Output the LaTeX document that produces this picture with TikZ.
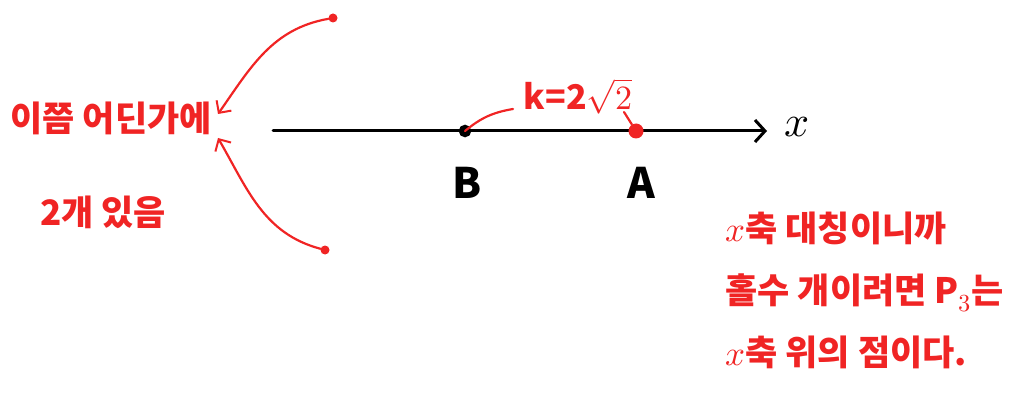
\documentclass[tikz,border=0pt]{standalone}
\usepackage{amsmath}
\usepackage{xcolor}
\usepackage{fontspec}
\usepackage{unicode-math}
\newfontfamily\kor{Noto Sans CJK KR}
\usetikzlibrary{arrows.meta, positioning, calc}

\definecolor{pen}{RGB}{240,36,36}

\begin{document}
\begin{tikzpicture}[
    x=1pt, y=-1pt,
    axis/.style={line width=3pt, line cap=round, -{Straight Barb[length=10pt, width=22pt, line width=3pt]}},
    bdot/.style={circle, draw, line width=2.5pt, fill=black, inner sep=0pt, minimum size=10pt},
    adot/.style={circle, fill=pen, inner sep=0pt, minimum size=15pt},
    pdot/.style={circle, fill=pen, inner sep=0pt, minimum size=9pt},
    pointlabel/.style={font=\kor\bfseries\fontsize{42}{50}\selectfont},
    note/.style={text=pen, font=\kor\bfseries\fontsize{35}{62}\selectfont, align=left},
    hint/.style={pen, line width=2.2pt, line cap=round},
    >={Straight Barb[length=9pt, width=18pt, line width=2pt]}
]
\useasboundingbox (0,0) rectangle (1035,398);

% axis and its points
\coordinate (axstart) at (273,131);
\coordinate (axend) at (767,131);
\draw[axis] (axstart) -- (axend);
\node[font=\fontsize{44}{48}\selectfont] (xlab) at (797,127) {$x$};
\node[bdot] (B) at (465,131) {};
\node[adot] (A) at (636,131) {};
\node[pointlabel] (blab) at (467,183) {B};
\node[pointlabel] (alab) at (641,183) {A};

% distance mark
\node[text=pen, font=\kor\bfseries\fontsize{34}{40}\selectfont] (klab) at (578,96) {k=2$\sqrt{2}$};
\coordinate (kleft) at (513,109);
\coordinate (kright) at (624,112);
\draw[hint] (B.center) to[bend left=15] (kleft);
\draw[hint] (kright) -- (A);

% candidates for P3
\node[pdot] (p1) at (333,18) {};
\node[pdot] (p2) at (325,250) {};
\node[note, font=\kor\bfseries\fontsize{35}{40}\selectfont] (guess1) at (111,118) {이쯤 어딘가에};
\node[note, font=\kor\bfseries\fontsize{35}{40}\selectfont] (guess2) at (103,212) {2개 있음};
\coordinate (tip1) at (218,114);
\coordinate (tip2) at (218,138);
\draw[hint, ->] (p1) to[out=190, in=55] (tip1);
\draw[hint, ->] (p2) to[out=165, in=-60] (tip2);

% conclusion
\node[note, anchor=west] (concl) at (722,290) {$x$축 대칭이니까\\홀수 개이려면 P$_3$는\\$x$축 위의 점이다.};
\end{tikzpicture}
\end{document}
